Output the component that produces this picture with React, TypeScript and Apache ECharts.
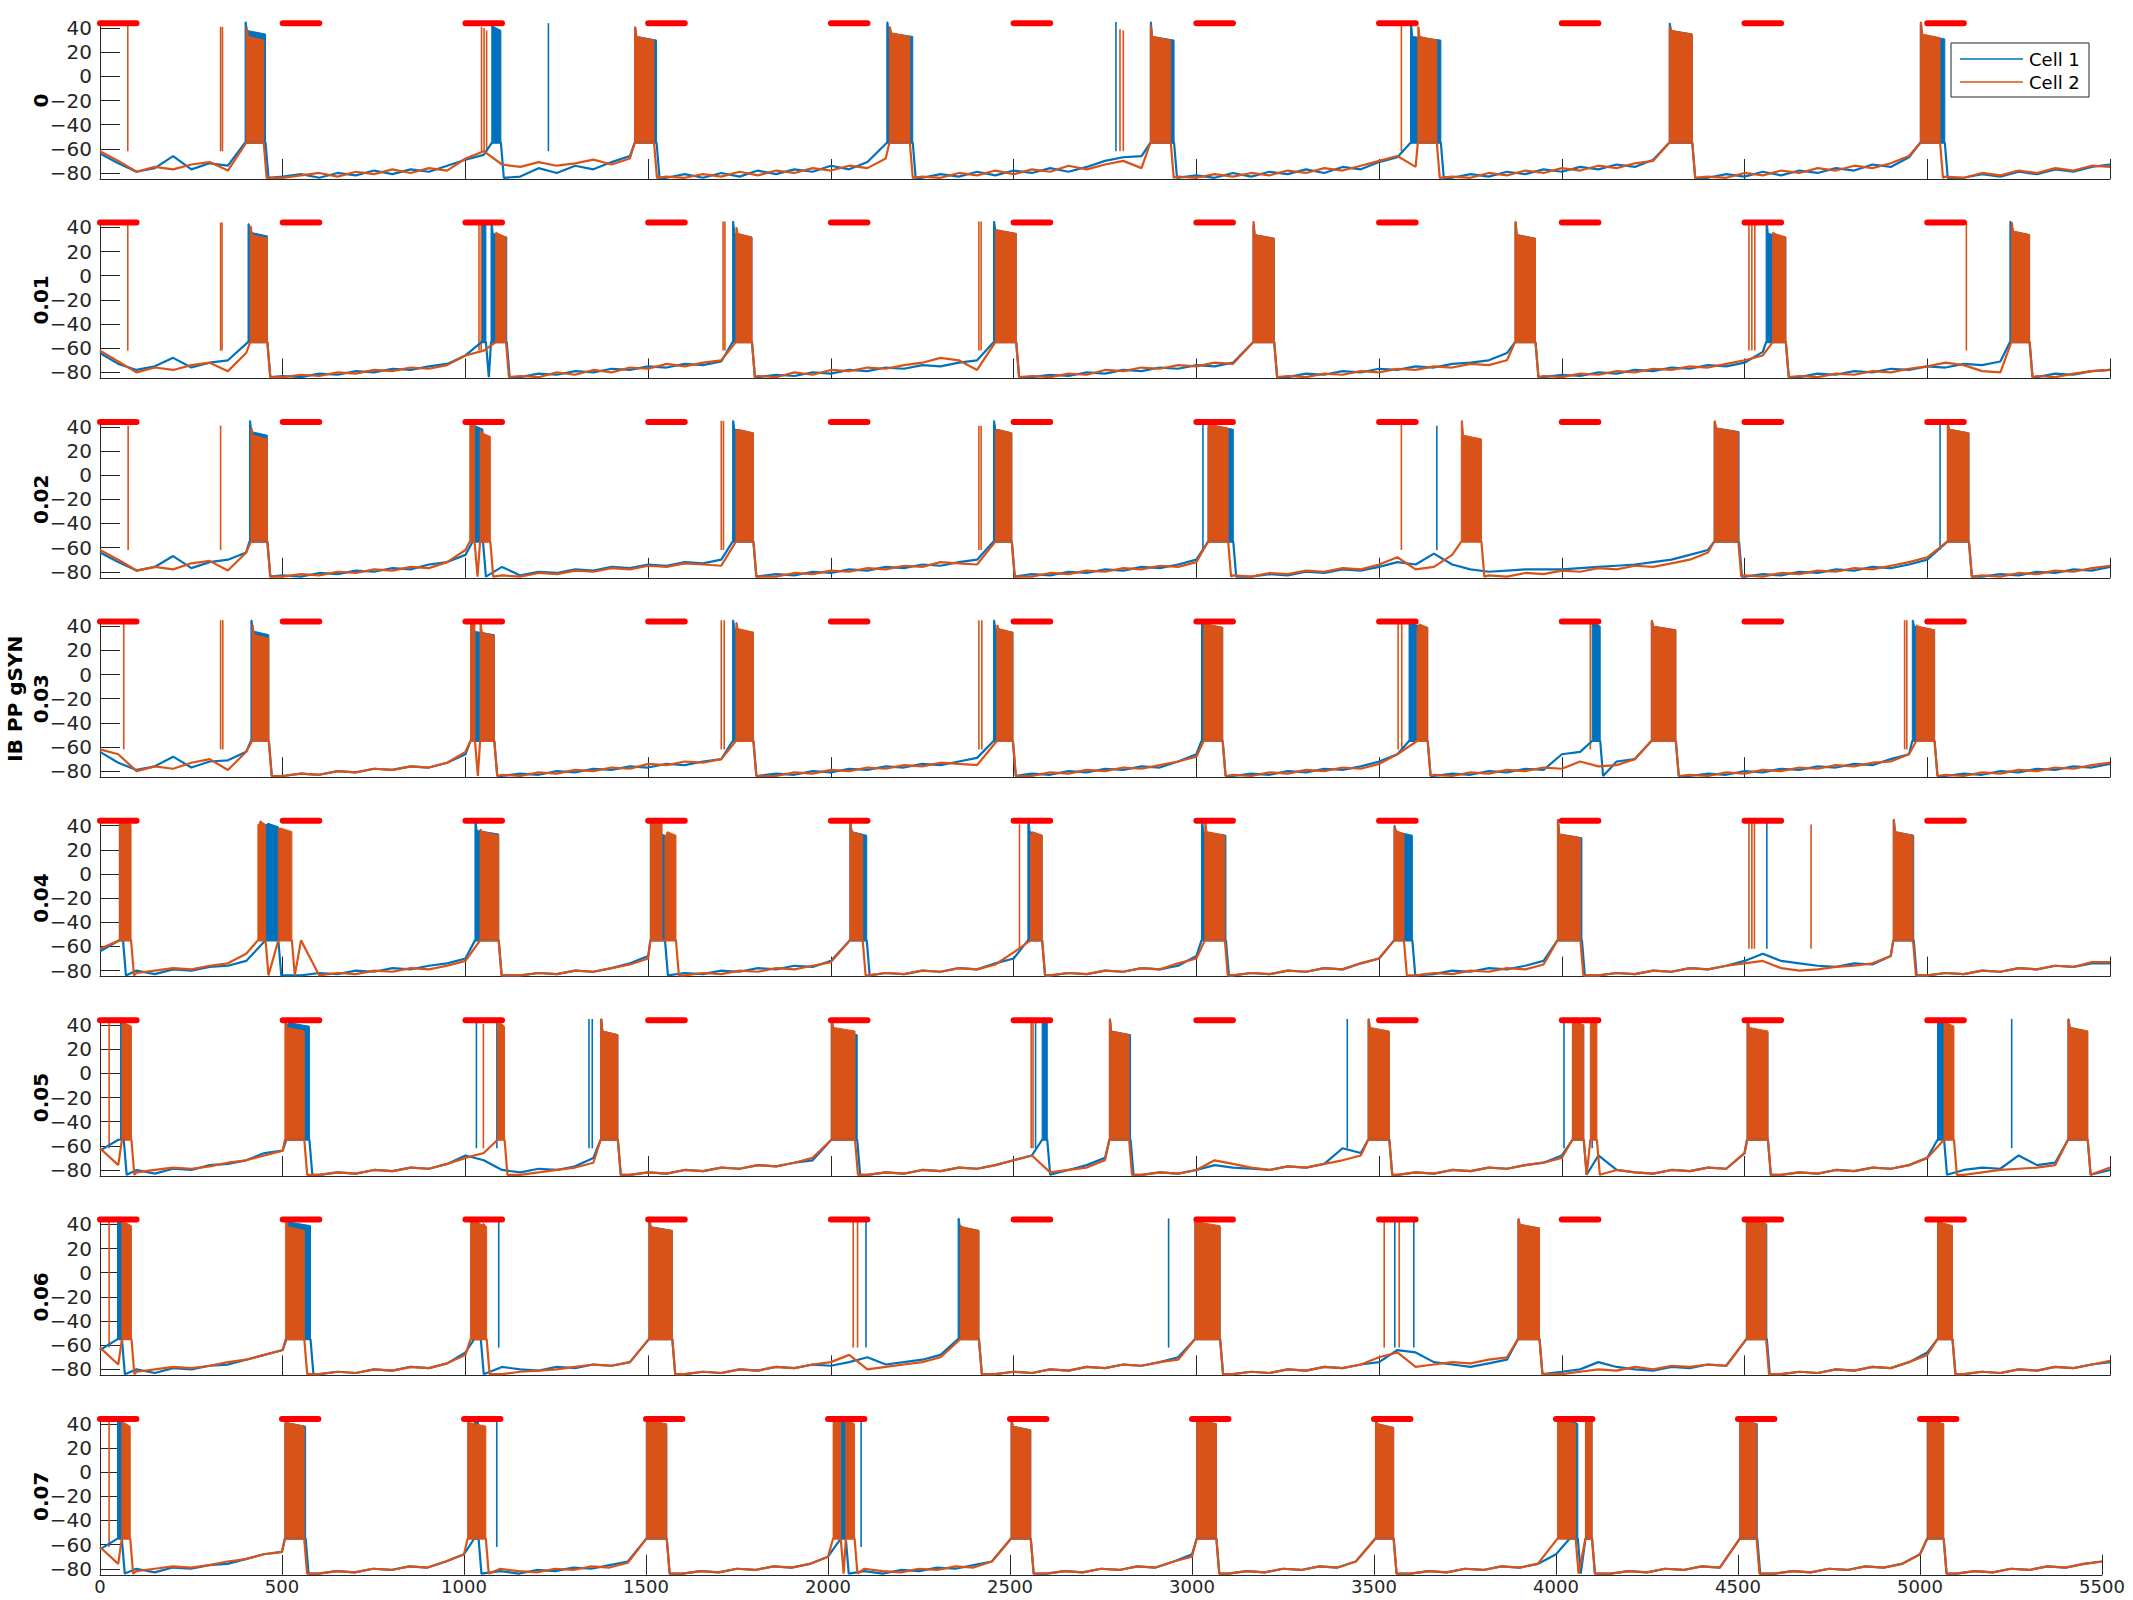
import React, { useEffect, useRef } from "react";
import * as echarts from "echarts";

const FONT = "'DejaVu Sans', sans-serif";
const BLUE = "#0072BD";
const ORANGE = "#D95319";
const STIM_RED = "#FF0000";
const AXIS_COLOR = "#262626";

const PANEL_LABELS = ["0", "0.01", "0.02", "0.03", "0.04", "0.05", "0.06", "0.07"];
const Y_TITLE = "IB PP gSYN";
const LEGEND_NAMES = ["Cell 1", "Cell 2"];
const X_MIN = 0;
const X_MAX = 5500;
const X_STEP = 500;
const Y_MIN = -85;
const Y_MAX = 45;
const Y_TICKS = [-80, -60, -40, -20, 0, 20, 40];
const STIM_WINDOWS = [[0, 100], [500, 600], [1000, 1100], [1500, 1600], [2000, 2100], [2500, 2600], [3000, 3100], [3500, 3600], [4000, 4100], [4500, 4600], [5000, 5100]];
const STIM_LEVEL = 44;
const SAMPLE_STEP_MS = 50;
const PLATEAU_MV = -55;
const AHP_MV = -84;
const SPIKE_BASE_MV = -62;

// Baseline membrane potential, one value every 50 ms (0..5500), per panel
const CELL1_BASE = [
  [-64,-72,-79,-76,-66,-77,-72,-74,-55,-55,
   -83,-81,-84,-80,-82,-78,-81,-77,-79,-74,
   -69,-65,-80,-83,-76,-80,-74,-77,-71,-66,
   -55,-84,-81,-84,-80,-83,-78,-81,-77,-79,
   -74,-77,-71,-64,-55,-84,-81,-83,-79,-82,
   -78,-80,-76,-79,-75,-70,-67,-66,-55,-84,
   -82,-84,-80,-83,-79,-81,-77,-80,-75,-77,
   -71,-67,-58,-55,-84,-81,-83,-79,-81,-77,
   -79,-75,-77,-73,-75,-69,-55,-55,-84,-81,
   -83,-79,-82,-78,-80,-76,-78,-73,-75,-67,
   -55,-55,-84,-81,-83,-79,-81,-77,-79,-75,
   -73],
  [-64,-73,-78,-75,-68,-76,-72,-70,-55,-55,
   -83,-84,-81,-82,-79,-80,-77,-78,-75,-73,
   -66,-55,-55,-84,-81,-82,-79,-80,-77,-78,
   -75,-76,-73,-74,-71,-55,-84,-82,-83,-80,
   -81,-78,-79,-76,-77,-74,-75,-72,-70,-55,
   -55,-84,-82,-83,-80,-81,-78,-79,-76,-77,
   -74,-75,-72,-55,-55,-84,-81,-82,-79,-80,
   -77,-78,-75,-76,-73,-72,-70,-64,-55,-84,
   -82,-83,-80,-81,-78,-79,-76,-77,-74,-75,
   -72,-63,-55,-84,-81,-82,-79,-80,-77,-78,
   -75,-76,-73,-74,-71,-55,-84,-81,-82,-79,
   -78],
  [-64,-72,-79,-76,-67,-77,-72,-70,-64,-55,
   -83,-84,-81,-82,-79,-80,-77,-78,-74,-72,
   -66,-62,-76,-83,-80,-81,-78,-79,-76,-77,
   -74,-75,-72,-73,-70,-55,-84,-82,-83,-80,
   -81,-78,-79,-76,-77,-74,-75,-72,-70,-55,
   -84,-82,-83,-80,-81,-78,-79,-76,-77,-74,
   -70,-55,-55,-84,-82,-83,-80,-81,-78,-79,
   -76,-72,-74,-65,-74,-78,-80,-79,-78,-78,
   -78,-77,-76,-75,-74,-72,-70,-66,-62,-55,
   -84,-82,-83,-80,-81,-78,-79,-76,-77,-74,
   -70,-55,-55,-84,-82,-83,-80,-81,-78,-79,
   -76],
  [-64,-73,-79,-76,-68,-77,-72,-71,-64,-55,
   -84,-82,-83,-80,-81,-78,-79,-76,-77,-73,
   -66,-55,-84,-82,-83,-80,-81,-78,-79,-76,
   -77,-74,-75,-72,-70,-55,-84,-82,-83,-80,
   -81,-78,-79,-76,-77,-74,-75,-72,-69,-55,
   -84,-82,-83,-80,-81,-78,-79,-76,-77,-72,
   -66,-55,-84,-82,-83,-80,-81,-78,-79,-76,
   -72,-66,-55,-84,-82,-83,-80,-81,-78,-79,
   -66,-64,-55,-72,-70,-55,-55,-84,-82,-83,
   -80,-81,-78,-79,-76,-77,-74,-75,-70,-66,
   -55,-84,-82,-83,-80,-81,-78,-79,-76,-77,
   -74],
  [-64,-55,-80,-83,-79,-80,-77,-76,-72,-66,
   -64,-84,-82,-83,-80,-81,-78,-79,-76,-74,
   -70,-55,-55,-84,-82,-83,-80,-81,-78,-74,
   -68,-84,-82,-83,-80,-81,-78,-79,-76,-77,
   -72,-55,-84,-82,-83,-80,-81,-78,-79,-74,
   -70,-55,-84,-82,-83,-80,-81,-78,-79,-76,
   -68,-55,-84,-82,-83,-80,-81,-78,-79,-74,
   -70,-55,-82,-83,-80,-81,-78,-79,-76,-72,
   -55,-55,-84,-82,-83,-80,-81,-78,-79,-76,
   -72,-66,-72,-74,-76,-77,-74,-75,-68,-55,
   -84,-82,-83,-80,-81,-78,-79,-76,-77,-74,
   -74],
  [-64,-55,-80,-83,-79,-80,-76,-75,-72,-66,
   -64,-55,-84,-82,-83,-80,-81,-78,-79,-75,
   -68,-72,-80,-82,-79,-80,-77,-70,-55,-84,
   -82,-83,-80,-81,-78,-79,-76,-77,-74,-72,
   -55,-55,-84,-82,-83,-80,-81,-78,-79,-76,
   -72,-68,-78,-80,-76,-70,-55,-84,-82,-83,
   -80,-76,-78,-79,-80,-77,-78,-75,-62,-66,
   -55,-84,-82,-83,-80,-81,-78,-79,-76,-74,
   -68,-55,-68,-80,-82,-83,-80,-81,-78,-79,
   -66,-55,-84,-82,-83,-80,-81,-78,-79,-76,
   -70,-80,-80,-78,-79,-68,-76,-74,-55,-55,
   -80],
  [-64,-55,-80,-83,-79,-80,-77,-76,-72,-68,
   -64,-55,-84,-82,-83,-80,-81,-78,-79,-75,
   -66,-70,-78,-80,-81,-78,-79,-76,-77,-74,
   -55,-55,-84,-82,-83,-80,-81,-78,-79,-76,
   -77,-74,-70,-76,-74,-72,-68,-55,-55,-84,
   -82,-83,-80,-81,-78,-79,-76,-77,-74,-70,
   -55,-55,-84,-82,-83,-80,-81,-78,-79,-76,
   -74,-64,-66,-74,-76,-78,-75,-72,-55,-55,
   -82,-80,-74,-78,-80,-81,-78,-79,-76,-77,
   -55,-55,-84,-82,-83,-80,-81,-78,-79,-74,
   -66,-55,-84,-82,-83,-80,-81,-78,-79,-76,
   -74],
  [-64,-55,-80,-83,-79,-80,-77,-76,-72,-68,
   -66,-55,-84,-82,-83,-80,-81,-78,-79,-74,
   -68,-62,-82,-84,-81,-82,-79,-80,-77,-74,
   -55,-55,-84,-82,-83,-80,-81,-78,-79,-76,
   -70,-66,-82,-84,-81,-82,-79,-80,-77,-74,
   -55,-55,-84,-82,-83,-80,-81,-78,-79,-74,
   -68,-55,-84,-82,-83,-80,-81,-78,-79,-74,
   -55,-55,-84,-82,-83,-80,-81,-78,-79,-76,
   -68,-55,-70,-84,-82,-83,-80,-81,-78,-79,
   -55,-55,-84,-82,-83,-80,-81,-78,-79,-76,
   -68,-55,-84,-82,-83,-80,-81,-78,-79,-76,
   -74],
];

const CELL2_BASE = [
  [-62,-70,-79,-75,-77,-73,-71,-78,-55,-55,
   -84,-82,-80,-83,-79,-81,-77,-80,-76,-78,
   -68,-62,-73,-75,-71,-74,-72,-69,-73,-68,
   -55,-83,-84,-81,-83,-79,-82,-78,-80,-76,
   -78,-74,-76,-68,-55,-83,-84,-80,-82,-78,
   -81,-77,-79,-74,-77,-73,-70,-76,-55,-83,
   -84,-81,-83,-80,-82,-78,-80,-76,-78,-74,
   -70,-66,-75,-55,-83,-84,-80,-82,-78,-80,
   -76,-78,-74,-76,-72,-70,-55,-55,-83,-84,
   -80,-82,-78,-80,-76,-78,-74,-76,-72,-66,
   -55,-83,-84,-80,-82,-78,-80,-76,-78,-74,
   -75],
  [-62,-71,-80,-76,-78,-74,-72,-79,-64,-55,
   -84,-82,-83,-80,-81,-78,-79,-76,-77,-74,
   -66,-62,-55,-83,-84,-80,-82,-78,-80,-76,
   -77,-73,-75,-72,-70,-55,-83,-84,-80,-82,
   -78,-79,-76,-77,-74,-72,-68,-70,-78,-55,
   -55,-83,-84,-81,-82,-78,-79,-76,-77,-74,
   -75,-72,-73,-55,-55,-83,-84,-81,-82,-79,
   -80,-77,-78,-75,-76,-73,-74,-70,-55,-83,
   -84,-81,-82,-79,-80,-77,-78,-75,-76,-73,
   -70,-66,-55,-83,-84,-81,-82,-79,-80,-77,
   -75,-72,-74,-79,-80,-55,-83,-84,-81,-79,
   -78],
  [-62,-70,-79,-76,-78,-73,-71,-79,-64,-55,
   -84,-82,-83,-80,-81,-78,-79,-76,-77,-72,
   -62,-55,-83,-84,-81,-82,-79,-80,-77,-78,
   -75,-76,-73,-74,-75,-55,-83,-84,-81,-82,
   -79,-80,-77,-78,-75,-76,-72,-73,-74,-55,
   -83,-84,-81,-82,-79,-80,-77,-78,-75,-76,
   -72,-55,-83,-84,-81,-82,-79,-80,-77,-78,
   -74,-68,-78,-76,-66,-55,-83,-84,-81,-82,
   -79,-80,-77,-78,-75,-76,-73,-70,-64,-55,
   -83,-84,-81,-82,-79,-80,-77,-78,-75,-72,
   -68,-55,-55,-83,-84,-81,-82,-79,-80,-77,
   -75],
  [-62,-66,-80,-76,-78,-73,-70,-79,-64,-55,
   -84,-82,-83,-80,-81,-78,-79,-76,-77,-73,
   -64,-55,-83,-84,-81,-82,-79,-80,-77,-78,
   -74,-75,-72,-73,-70,-55,-83,-84,-81,-82,
   -79,-80,-77,-78,-75,-76,-73,-74,-75,-55,
   -83,-84,-81,-82,-79,-80,-77,-78,-75,-72,
   -68,-55,-83,-84,-81,-82,-79,-80,-77,-78,
   -74,-66,-76,-83,-84,-81,-82,-79,-80,-77,
   -78,-72,-76,-75,-70,-55,-55,-83,-84,-81,
   -82,-79,-80,-77,-78,-75,-76,-73,-72,-66,
   -55,-83,-84,-81,-82,-79,-80,-77,-78,-75,
   -73],
  [-62,-55,-82,-80,-78,-79,-76,-74,-66,-55,
   -55,-55,-84,-82,-83,-80,-81,-78,-79,-76,
   -72,-55,-55,-84,-82,-83,-80,-81,-78,-75,
   -70,-55,-84,-82,-83,-80,-81,-78,-79,-76,
   -73,-55,-84,-82,-83,-80,-81,-78,-79,-75,
   -65,-55,-84,-82,-83,-80,-81,-78,-79,-74,
   -70,-55,-84,-82,-83,-80,-81,-78,-79,-74,
   -70,-55,-84,-82,-83,-80,-81,-78,-79,-75,
   -55,-55,-84,-82,-83,-80,-81,-78,-79,-76,
   -74,-72,-78,-80,-79,-77,-76,-74,-68,-55,
   -84,-82,-83,-80,-81,-78,-79,-76,-77,-73,
   -73],
  [-62,-76,-82,-80,-78,-79,-77,-74,-72,-68,
   -64,-55,-84,-82,-83,-80,-81,-78,-79,-75,
   -70,-66,-55,-84,-82,-80,-78,-74,-55,-84,
   -82,-83,-80,-81,-78,-79,-76,-77,-74,-70,
   -55,-55,-84,-82,-83,-80,-81,-78,-79,-76,
   -72,-68,-82,-80,-78,-72,-55,-84,-82,-83,
   -80,-72,-75,-78,-80,-77,-78,-75,-72,-68,
   -55,-84,-82,-83,-80,-81,-78,-79,-76,-74,
   -70,-55,-55,-80,-82,-83,-80,-81,-78,-79,
   -66,-55,-84,-82,-83,-80,-81,-78,-79,-76,
   -70,-55,-84,-82,-80,-79,-78,-76,-72,-55,
   -78],
  [-62,-76,-82,-80,-78,-79,-77,-74,-72,-68,
   -64,-55,-84,-82,-83,-80,-81,-78,-79,-75,
   -68,-55,-84,-82,-81,-80,-78,-76,-77,-74,
   -55,-55,-84,-82,-83,-80,-81,-78,-79,-76,
   -74,-68,-80,-78,-76,-74,-70,-55,-55,-84,
   -82,-83,-80,-81,-78,-79,-76,-77,-74,-72,
   -55,-55,-84,-82,-83,-80,-81,-78,-79,-76,
   -70,-66,-78,-76,-74,-75,-72,-70,-55,-55,
   -84,-82,-80,-81,-78,-80,-77,-78,-76,-77,
   -55,-55,-84,-82,-83,-80,-81,-78,-79,-74,
   -68,-55,-84,-82,-83,-80,-81,-78,-79,-76,
   -73],
  [-62,-76,-82,-80,-78,-79,-77,-74,-72,-68,
   -66,-55,-84,-82,-83,-80,-81,-78,-79,-74,
   -68,-55,-80,-82,-83,-80,-81,-78,-79,-75,
   -55,-55,-84,-82,-83,-80,-81,-78,-79,-76,
   -70,-55,-80,-82,-83,-80,-81,-78,-79,-74,
   -55,-55,-84,-82,-83,-80,-81,-78,-79,-74,
   -70,-55,-84,-82,-83,-80,-81,-78,-79,-74,
   -55,-55,-84,-82,-83,-80,-81,-78,-79,-76,
   -70,-55,-78,-84,-82,-83,-80,-81,-78,-79,
   -55,-55,-84,-82,-83,-80,-81,-78,-79,-76,
   -68,-55,-84,-82,-83,-80,-81,-78,-79,-76,
   -74],
];

// Bursts: [start ms, end ms, first spike peak mV, last spike peak mV]
const CELL1_BURSTS = [
  [[397,453,45,35],[1072,1097,42,38],[1463,1523,40,30],[2153,2224,45,33],[2874,2939,45,30],[3586,3669,43,30],[4294,4357,44,35],[4981,5048,44,31]],
  [[405,458,43,33],[1044,1056,45,42],[1070,1113,45,32],[1731,1784,45,32],[2445,2507,45,35],[3155,3213,42,31],[3872,3928,44,31],[4559,4613,45,32],[5226,5280,45,34]],
  [[409,458,45,33],[1020,1048,44,38],[1731,1788,45,35],[2445,2495,45,35],[3032,3101,40,38],[4417,4485,44,36],[5055,5114,42,35]],
  [[413,462,45,33],[1014,1079,45,33],[1731,1788,45,35],[2445,2498,45,35],[3014,3072,45,39],[3582,3633,45,39],[4083,4105,43,40],[4245,4312,44,37],[4959,5020,45,37]],
  [[53,63,45,43],[453,488,41,39],[1026,1091,45,33],[1506,1546,44,32],[2052,2098,42,32],[2539,2578,45,32],[3014,3081,45,32],[3541,3591,40,32],[3988,4055,45,30],[4907,4963,45,32]],
  [[56,65,45,43],[510,573,40,39],[1370,1417,45,32],[2001,2072,45,32],[2578,2592,45,43],[2762,2820,45,32],[3470,3528,45,34],[4029,4060,45,40],[4507,4564,45,34],[5028,5046,45,43],[5385,5439,45,35]],
  [[48,60,45,43],[510,576,40,39],[1024,1042,45,40],[1502,1566,44,35],[2348,2405,45,35],[2996,3065,44,38],[3880,3939,44,37],[4505,4561,45,40],[5028,5069,45,38]],
  [[48,60,45,43],[508,565,40,38],[1028,1040,45,43],[1501,1557,45,38],[2035,2049,45,43],[2503,2557,42,35],[3013,3067,45,40],[3504,3554,42,37],[4038,4060,45,40],[4081,4099,45,42],[4505,4553,45,40],[5020,5065,44,40]],
];

const CELL2_BURSTS = [
  [[400,448,40,30],[1463,1516,41,30],[2160,2216,41,33],[2874,2930,42,30],[3606,3658,41,30],[4294,4357,41,35],[4981,5035,45,32]],
  [[411,458,41,31],[1083,1111,36,32],[1740,1784,40,32],[2450,2507,38,35],[3155,3213,45,31],[3872,3928,45,31],[4577,4613,36,32],[5230,5280,44,34]],
  [[413,458,39,30],[1012,1025,45,42],[1040,1068,37,32],[1740,1788,37,35],[2450,2495,37,35],[3032,3087,45,39],[3725,3780,45,30],[4417,4483,45,36],[5055,5114,41,35]],
  [[416,462,41,30],[1014,1026,45,42],[1040,1079,42,32],[1740,1788,43,35],[2454,2498,41,35],[3020,3072,45,39],[3604,3633,39,39],[4245,4312,45,37],[4970,5020,41,37]],
  [[53,85,45,41],[432,453,41,41],[488,525,38,35],[1040,1091,37,32],[1506,1538,45,43],[1546,1576,32,32],[2052,2087,42,32],[2546,2578,33,32],[3023,3078,43,32],[3541,3568,39,33],[3988,4051,45,30],[4907,4961,45,32]],
  [[60,86,41,39],[506,559,45,35],[1088,1107,41,39],[1370,1417,45,32],[2001,2066,45,35],[2762,2816,45,32],[3470,3528,45,35],[4029,4060,45,40],[4078,4096,45,43],[4507,4564,45,35],[5046,5073,45,39],[5385,5439,45,35]],
  [[60,86,41,39],[508,559,45,35],[1014,1043,45,40],[1043,1058,40,38],[1502,1566,45,35],[2354,2405,39,35],[2996,3065,45,39],[3880,3939,45,37],[4505,4559,45,41],[5028,5069,45,39]],
  [[60,83,41,38],[508,561,45,38],[1010,1060,45,38],[1501,1557,45,40],[2014,2035,45,42],[2049,2073,42,40],[2503,2557,45,35],[3013,3067,45,40],[3504,3554,45,37],[4004,4054,45,40],[4081,4099,45,43],[4505,4551,45,40],[5020,5065,45,40]],
];

// Isolated spikes: [time ms, peak mV]
const CELL1_SPIKES = [
  [[1227,44],[2780,45]],
  [],
  [[3018,45],[3658,41],[5035,45]],
  [],
  [[4561,45]],
  [[1030,45],[1086,45],[1338,45],[1347,45],[2560,43],[3413,45],[4006,45],[4083,45],[5231,45]],
  [[1091,45],[2096,45],[2924,45],[3543,45],[3595,45]],
  [[1090,45],[2091,45]],
];

const CELL2_SPIKES = [
  [[76,45],[330,41],[335,41],[1044,41],[1051,40],[1058,38],[2791,39],[2800,38],[3561,45]],
  [[76,45],[330,44],[334,44],[1037,45],[1043,45],[1705,45],[1710,45],[2405,45],[2411,45],[4512,45],[4520,45],[4528,45],[5107,45]],
  [[77,41],[330,41],[1700,45],[1706,45],[2405,41],[2411,41],[3561,45]],
  [[65,45],[330,45],[336,45],[1700,45],[1708,45],[2405,45],[2413,45],[3552,45],[3562,45],[4078,45],[4938,45],[4944,45]],
  [[2516,41],[4512,45],[4520,45],[4527,45],[4682,41]],
  [[25,45],[1049,41],[2548,45],[2553,45]],
  [[25,45],[2061,45],[2073,45],[3514,45],[3555,45]],
  [[25,45]],
];

function buildTrace(base: number[], bursts: number[][]) {
  const pts: number[][] = [];
  base.forEach((v, i) => {
    const t = i * SAMPLE_STEP_MS;
    if (bursts.some((b) => t >= b[0] - 5 && t <= b[1] + 12)) return;
    pts.push([t, v]);
  });
  bursts.forEach((b) => {
    pts.push([b[0], PLATEAU_MV], [b[1], PLATEAU_MV]);
    const tr = b[1] + 8;
    if (!bursts.some((o) => o !== b && tr >= o[0] && tr <= o[1])) pts.push([tr, AHP_MV]);
  });
  pts.sort((a, b) => a[0] - b[0]);
  return pts;
}

function burstRenderer(color: string) {
  return (params: any, api: any) => {
    const s = api.value(0), e = api.value(1), a = api.value(2), b = api.value(3);
    const k = Math.min(3, (e - s) / 4);
    const pts = [[s, PLATEAU_MV], [s, a], [s + k, a], [s + 2 * k, b + 3], [e, b], [e, PLATEAU_MV]].map((p) => api.coord(p));
    return { type: "polygon", shape: { points: pts }, style: { fill: color, stroke: color, lineWidth: 1 } };
  };
}

function spikeRenderer(color: string) {
  return (params: any, api: any) => {
    const t = api.value(0), top = api.value(1);
    const p0 = api.coord([t, SPIKE_BASE_MV]);
    const p1 = api.coord([t, top]);
    return { type: "line", shape: { x1: p0[0], y1: p0[1], x2: p1[0], y2: p1[1] }, style: { stroke: color, lineWidth: 1.6 } };
  };
}

function stimRenderer(params: any, api: any) {
  const p0 = api.coord([api.value(0), api.value(2)]);
  const p1 = api.coord([api.value(1), api.value(2)]);
  return { type: "line", shape: { x1: p0[0], y1: p0[1], x2: p1[0], y2: p1[1] }, style: { stroke: STIM_RED, lineWidth: 6, lineCap: "round" } };
}

export default function App() {
  const ref = useRef<HTMLDivElement>(null);
  useEffect(() => {
    if (!ref.current) return;
    const chart = echarts.init(ref.current, undefined, { renderer: "svg" });
    const n = PANEL_LABELS.length;
    const grids: any[] = [];
    const xAxes: any[] = [];
    const yAxes: any[] = [];
    const series: any[] = [];
    const graphics: any[] = [];
    for (let k = 0; k < n; k++) {
      const top = 22 + 199.4 * k;
      const height = 157;
      grids.push({ left: 100, right: k === n - 1 ? 31 : 23, top, height });
      xAxes.push({
        type: "value", gridIndex: k, min: X_MIN, max: X_MAX, interval: X_STEP,
        axisLine: { show: true, onZero: false, lineStyle: { color: AXIS_COLOR, width: 1 } },
        axisTick: { show: true, inside: true, length: 20, lineStyle: { color: AXIS_COLOR, width: 1 } },
        axisLabel: {
          show: k === n - 1, fontSize: 18, lineHeight: 18, color: AXIS_COLOR, fontFamily: FONT, margin: 3,
          showMinLabel: true, showMaxLabel: true, formatter: (v: number) => String(v),
        },
        splitLine: { show: false },
      });
      yAxes.push({
        type: "value", gridIndex: k, min: Y_MIN, max: Y_MAX,
        axisLine: { show: true, onZero: false, lineStyle: { color: AXIS_COLOR, width: 1 } },
        axisTick: { show: true, inside: true, length: 20, customValues: Y_TICKS, lineStyle: { color: AXIS_COLOR, width: 1 } },
        axisLabel: {
          customValues: Y_TICKS, fontSize: 20, color: AXIS_COLOR, fontFamily: FONT, margin: 8,
          formatter: (v: number) => (v < 0 ? "\u2212" + Math.abs(v) : String(v)),
        },
        splitLine: { show: false },
      });
      const cells = [
        { base: CELL1_BASE[k], bursts: CELL1_BURSTS[k], spikes: CELL1_SPIKES[k], color: BLUE, name: LEGEND_NAMES[0] },
        { base: CELL2_BASE[k], bursts: CELL2_BURSTS[k], spikes: CELL2_SPIKES[k], color: ORANGE, name: LEGEND_NAMES[1] },
      ];
      cells.forEach((c) => {
        series.push({
          type: "line", name: c.name, xAxisIndex: k, yAxisIndex: k, data: buildTrace(c.base, c.bursts),
          showSymbol: false, symbol: "none", silent: true, lineStyle: { color: c.color, width: 2.2 }, clip: true,
        });
        series.push({
          type: "custom", xAxisIndex: k, yAxisIndex: k, data: c.bursts, renderItem: burstRenderer(c.color),
          encode: { x: [0, 1], y: [2, 3] }, silent: true,
        });
        series.push({
          type: "custom", xAxisIndex: k, yAxisIndex: k, data: c.spikes, renderItem: spikeRenderer(c.color),
          encode: { x: 0, y: 1 }, silent: true,
        });
      });
      series.push({
        type: "custom", xAxisIndex: k, yAxisIndex: k, data: STIM_WINDOWS.map((w) => [w[0], w[1], STIM_LEVEL]),
        renderItem: stimRenderer, encode: { x: [0, 1], y: 2 }, silent: true, z: 5,
      });
      const cy = top + height / 2;
      graphics.push({
        type: "text", x: 41, y: cy, rotation: Math.PI / 2,
        style: { text: PANEL_LABELS[k], font: `bold 20px ${FONT}`, fill: "#000", align: "center", verticalAlign: "middle" },
      });
      if (k === 3) {
        graphics.push({
          type: "text", x: 15, y: cy, rotation: Math.PI / 2,
          style: { text: Y_TITLE, font: `bold 20px ${FONT}`, fill: "#000", align: "center", verticalAlign: "middle" },
        });
      }
    }
    // legend
    graphics.push({ type: "rect", shape: { x: 1951, y: 43, width: 138, height: 54 }, style: { fill: "#fff", stroke: AXIS_COLOR, lineWidth: 1 }, z: 10 });
    graphics.push({ type: "line", shape: { x1: 1960, y1: 59, x2: 2023, y2: 59 }, style: { stroke: BLUE, lineWidth: 1.5 }, z: 11 });
    graphics.push({ type: "line", shape: { x1: 1960, y1: 82, x2: 2023, y2: 82 }, style: { stroke: ORANGE, lineWidth: 1.5 }, z: 11 });
    graphics.push({ type: "text", x: 2029, y: 59, style: { text: LEGEND_NAMES[0], font: `18px ${FONT}`, fill: "#000", verticalAlign: "middle" }, z: 11 });
    graphics.push({ type: "text", x: 2029, y: 82, style: { text: LEGEND_NAMES[1], font: `18px ${FONT}`, fill: "#000", verticalAlign: "middle" }, z: 11 });

    chart.setOption({
      animation: false,
      backgroundColor: "#fff",
      grid: grids,
      xAxis: xAxes,
      yAxis: yAxes,
      series,
      graphic: graphics,
    });
    return () => chart.dispose();
  }, []);
  return <div ref={ref} style={{ position: "fixed", left: 0, top: 0, width: 2133, height: 1600, background: "#fff" }} />;
}
